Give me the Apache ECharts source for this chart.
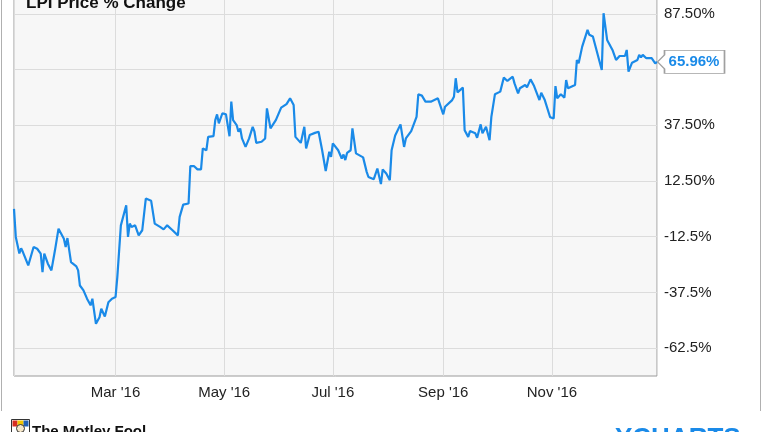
<!DOCTYPE html>
<html>
<head>
<meta charset="utf-8">
<script src="https://cdn.jsdelivr.net/npm/echarts@6/dist/echarts.min.js"></script>
<style>
  html, body { margin: 0; padding: 0; background: #ffffff; overflow: hidden; width: 764px; height: 432px; }
  #chart { position: absolute; left: 0; top: -14px; width: 764px; height: 446px; }
</style>
</head>
<body>
<div id="chart"></div>
<script>
// ---- data ----
const dates = [
  '2016-01-04','2016-01-05','2016-01-07','2016-01-08','2016-01-09','2016-01-12','2016-01-15','2016-01-17','2016-01-19','2016-01-20',
  '2016-01-21','2016-01-23','2016-01-25','2016-01-27','2016-01-29','2016-02-01','2016-02-02','2016-02-03','2016-02-05','2016-02-08',
  '2016-02-09','2016-02-10','2016-02-12','2016-02-14','2016-02-16','2016-02-17','2016-02-19','2016-02-21','2016-02-22','2016-02-24',
  '2016-02-26','2016-02-28','2016-03-01','2016-03-02','2016-03-04','2016-03-07','2016-03-08','2016-03-09','2016-03-10','2016-03-12',
  '2016-03-14','2016-03-16','2016-03-18','2016-03-21','2016-03-23','2016-03-26','2016-03-28','2016-03-30','2016-03-31','2016-04-02',
  '2016-04-05','2016-04-06','2016-04-08','2016-04-11','2016-04-12','2016-04-14','2016-04-16','2016-04-18','2016-04-19','2016-04-21',
  '2016-04-22','2016-04-25','2016-04-26','2016-04-27','2016-04-28','2016-04-30','2016-05-02','2016-05-04','2016-05-05','2016-05-06',
  '2016-05-08','2016-05-09','2016-05-10','2016-05-11','2016-05-13','2016-05-15','2016-05-17','2016-05-18','2016-05-19','2016-05-22',
  '2016-05-24','2016-05-25','2016-05-27','2016-05-30','2016-06-02','2016-06-05','2016-06-07','2016-06-09','2016-06-10','2016-06-13',
  '2016-06-15','2016-06-16','2016-06-18','2016-06-21','2016-06-22','2016-06-23','2016-06-25','2016-06-27','2016-06-29','2016-06-30',
  '2016-07-01','2016-07-04','2016-07-06','2016-07-07','2016-07-08','2016-07-09','2016-07-11','2016-07-12','2016-07-14','2016-07-18',
  '2016-07-20','2016-07-21','2016-07-22','2016-07-24','2016-07-25','2016-07-26','2016-07-28','2016-07-29','2016-07-31','2016-08-02',
  '2016-08-03','2016-08-05','2016-08-08','2016-08-10','2016-08-11','2016-08-14','2016-08-17','2016-08-18','2016-08-20','2016-08-22',
  '2016-08-25','2016-08-29','2016-09-01','2016-09-02','2016-09-06','2016-09-07','2016-09-08','2016-09-09','2016-09-12','2016-09-13',
  '2016-09-15','2016-09-16','2016-09-19','2016-09-20','2016-09-22','2016-09-23','2016-09-25','2016-09-27','2016-09-28','2016-09-30',
  '2016-10-03','2016-10-04','2016-10-05','2016-10-07','2016-10-08','2016-10-10','2016-10-11','2016-10-13','2016-10-14','2016-10-17',
  '2016-10-18','2016-10-20','2016-10-22','2016-10-25','2016-10-26','2016-10-28','2016-10-31','2016-11-02','2016-11-03','2016-11-04',
  '2016-11-06','2016-11-08','2016-11-09','2016-11-10','2016-11-14','2016-11-15','2016-11-16','2016-11-18','2016-11-21','2016-11-22',
  '2016-11-24','2016-11-29','2016-11-30','2016-12-02','2016-12-05','2016-12-06','2016-12-07','2016-12-09','2016-12-12','2016-12-13',
  '2016-12-14','2016-12-16','2016-12-19','2016-12-20','2016-12-21','2016-12-22','2016-12-24','2016-12-27','2016-12-29','2016-12-30'
];
const pctChange = [
  0, -12.6, -20.0, -17.7, -19.4, -25.4, -17.1, -17.9, -20.1, -28.4,
  -20.1, -24.6, -27.6, -18.6, -8.9, -13.4, -17.1, -13.1, -23.9, -25.8,
  -27.6, -34.4, -36.6, -40.3, -43.3, -40.3, -51.6, -48.6, -44.8, -48.3,
  -41.9, -40.3, -39.6, -30.6, -7.4, 1.6, -12.6, -6.6, -8.1, -7.4,
  -11.9, -9.6, 4.6, 3.6, -6.6, -8.1, -9.2, -7.4, -7.1, -9.6,
  -11.9, -3.6, 1.9, 2.4, 19.2, 19.2, 17.7, 17.7, 27.1, 26.3,
  32.3, 32.6, 39.8, 42.4, 38.4, 42.9, 42.4, 32.6, 48.1, 39.8,
  37.6, 34.6, 36.1, 31.6, 27.8, 31.6, 36.8, 34.6, 29.6, 30.1,
  31.6, 45.1, 36.1, 39.8, 45.4, 47.0, 49.6, 46.6, 32.3, 29.6,
  36.8, 27.1, 33.1, 34.1, 34.1, 34.6, 26.3, 17.0, 25.6, 23.3,
  29.4, 26.3, 22.6, 24.4, 21.9, 25.1, 26.3, 36.1, 24.9, 23.1,
  16.6, 14.3, 14.6, 13.3, 12.9, 18.1, 11.1, 17.7, 15.9, 12.9,
  26.3, 32.9, 37.9, 27.8, 31.6, 34.9, 41.3, 51.4, 50.8, 48.1,
  48.1, 49.6, 42.4, 45.8, 48.8, 50.3, 58.6, 52.3, 54.4, 35.3,
  32.3, 34.9, 33.9, 31.9, 37.9, 33.9, 36.8, 30.8, 41.3, 51.4,
  52.6, 53.3, 58.9, 57.4, 57.8, 59.3, 56.3, 51.8, 54.1, 55.6,
  54.5, 58.1, 55.1, 48.8, 52.1, 48.8, 41.1, 40.6, 55.1, 49.6,
  51.4, 49.9, 57.8, 54.1, 55.6, 66.8, 65.3, 72.8, 80.3, 78.1,
  77.3, 62.3, 87.8, 75.8, 71.3, 70.5, 66.8, 68.6, 68.6, 71.3,
  61.6, 65.6, 66.8, 69.1, 68.0, 69.1, 67.6, 67.6, 65.3, 65.96
];
const xTickLabels = ["Mar '16", "May '16", "Jul '16", "Sep '16", "Nov '16"];
const yTickLabels = { '87.5': '87.50%', '37.5': '37.50%', '12.5': '12.50%', '-12.5': '-12.5%', '-37.5': '-37.5%', '-62.5': '-62.5%' };
const chartTitle = 'LPI Price % Change';
const monthNames = ['Jan','Feb','Mar','Apr','May','Jun','Jul','Aug','Sep','Oct','Nov','Dec'];

// ---- chart ----
// the chart canvas is 14px taller than the window and shifted up by 14px,
// so the plot's top edge (at 100%) sits just above the visible picture.
const FONT = "'Liberation Sans', Arial, sans-serif";
const LINE_BLUE = '#1a8ae8';
const seriesData = dates.map((d, i) => [d, pctChange[i]]);
const lastIdx = dates.length - 1;

const chart = echarts.init(document.getElementById('chart'), null, { renderer: 'canvas' });
chart.setOption({
  animation: false,
  backgroundColor: '#ffffff',
  title: {
    text: chartTitle,
    left: 26, top: 9, padding: 0,
    textStyle: { fontFamily: FONT, fontSize: 17, fontWeight: 'bold', color: '#111' }
  },
  grid: {
    left: 14, right: 107, top: 0, bottom: 56,
    show: true, backgroundColor: '#f7f7f7', borderColor: '#9a9a9a', borderWidth: 1
  },
  xAxis: {
    type: 'time',
    min: dates[0], max: dates[lastIdx],
    splitNumber: 5,
    axisLine: { show: false }, axisTick: { show: false },
    splitLine: { show: true, lineStyle: { color: '#dcdcdc', width: 1 } },
    axisLabel: {
      fontFamily: FONT, fontSize: 15, color: '#222', margin: 9,
      formatter: function (v) {
        const d = new Date(v);
        const s = monthNames[d.getMonth()] + " '" + String(d.getFullYear()).slice(2);
        return xTickLabels.indexOf(s) >= 0 && d.getDate() === 1 ? s : '';
      }
    }
  },
  yAxis: {
    type: 'value', position: 'right',
    min: -75, max: 100, interval: 12.5,
    axisLine: { show: false }, axisTick: { show: false },
    splitLine: { show: true, showMinLine: true, showMaxLine: true, lineStyle: { color: ['rgba(0,0,0,0)', '#dcdcdc'], width: 1 } },
    axisLabel: {
      fontFamily: FONT, fontSize: 15, color: '#222', margin: 7,
      formatter: function (v) { return yTickLabels[String(v)] || ''; }
    }
  },
  series: [{
    type: 'line',
    data: seriesData,
    showSymbol: false,
    lineStyle: { color: LINE_BLUE, width: 2.2 },
    itemStyle: { color: LINE_BLUE },
    markPoint: {
      symbol: 'path://M0,11.5L7,4.5L7,0L67,0L67,23L7,23L7,18.5Z',
      symbolSize: [67, 23],
      symbolKeepAspect: false,
      symbolOffset: [34, 0],
      itemStyle: { color: '#ffffff', borderColor: '#a0a0a0', borderWidth: 1 },
      label: {
        show: true, offset: [3, 0],
        fontFamily: FONT, fontSize: 15, fontWeight: 'bold', color: LINE_BLUE,
        formatter: function (p) { return p.value.toFixed(2) + '%'; }
      },
      data: [{ coord: [dates[lastIdx], pctChange[lastIdx]], value: pctChange[lastIdx] }]
    }
  }],
  graphic: [
    { type: 'line', shape: { x1: 1.5, y1: 0, x2: 1.5, y2: 425 }, style: { stroke: '#b0b0b0', lineWidth: 1 } },
    { type: 'line', shape: { x1: 760.5, y1: 0, x2: 760.5, y2: 425 }, style: { stroke: '#b0b0b0', lineWidth: 1 } },
    { type: 'group', left: 11, top: 433, children: [
      { type: 'rect', shape: { x: 0, y: 0, width: 18, height: 14 }, style: { fill: '#ffffff', stroke: '#333', lineWidth: 1 } },
      { type: 'rect', shape: { x: 1, y: 1, width: 5, height: 6 }, style: { fill: '#d62d20' } },
      { type: 'rect', shape: { x: 6, y: 1, width: 6, height: 6 }, style: { fill: '#f2c500' } },
      { type: 'rect', shape: { x: 12, y: 1, width: 5, height: 6 }, style: { fill: '#1f5fb5' } },
      { type: 'circle', shape: { cx: 9, cy: 9, r: 4 }, style: { fill: '#f5e6c8', stroke: '#333', lineWidth: 1 } }
    ]},
    { type: 'text', left: 32, top: 438, style: { text: 'The Motley Fool', font: "bold 15px 'Liberation Sans', Arial, sans-serif", fill: '#111' } },
    { type: 'text', left: 615, top: 440, style: { text: 'YCHARTS', font: "bold 26px 'Liberation Sans', Arial, sans-serif", fill: '#1a8ae8' } }
  ]
});
</script>
</body>
</html>
